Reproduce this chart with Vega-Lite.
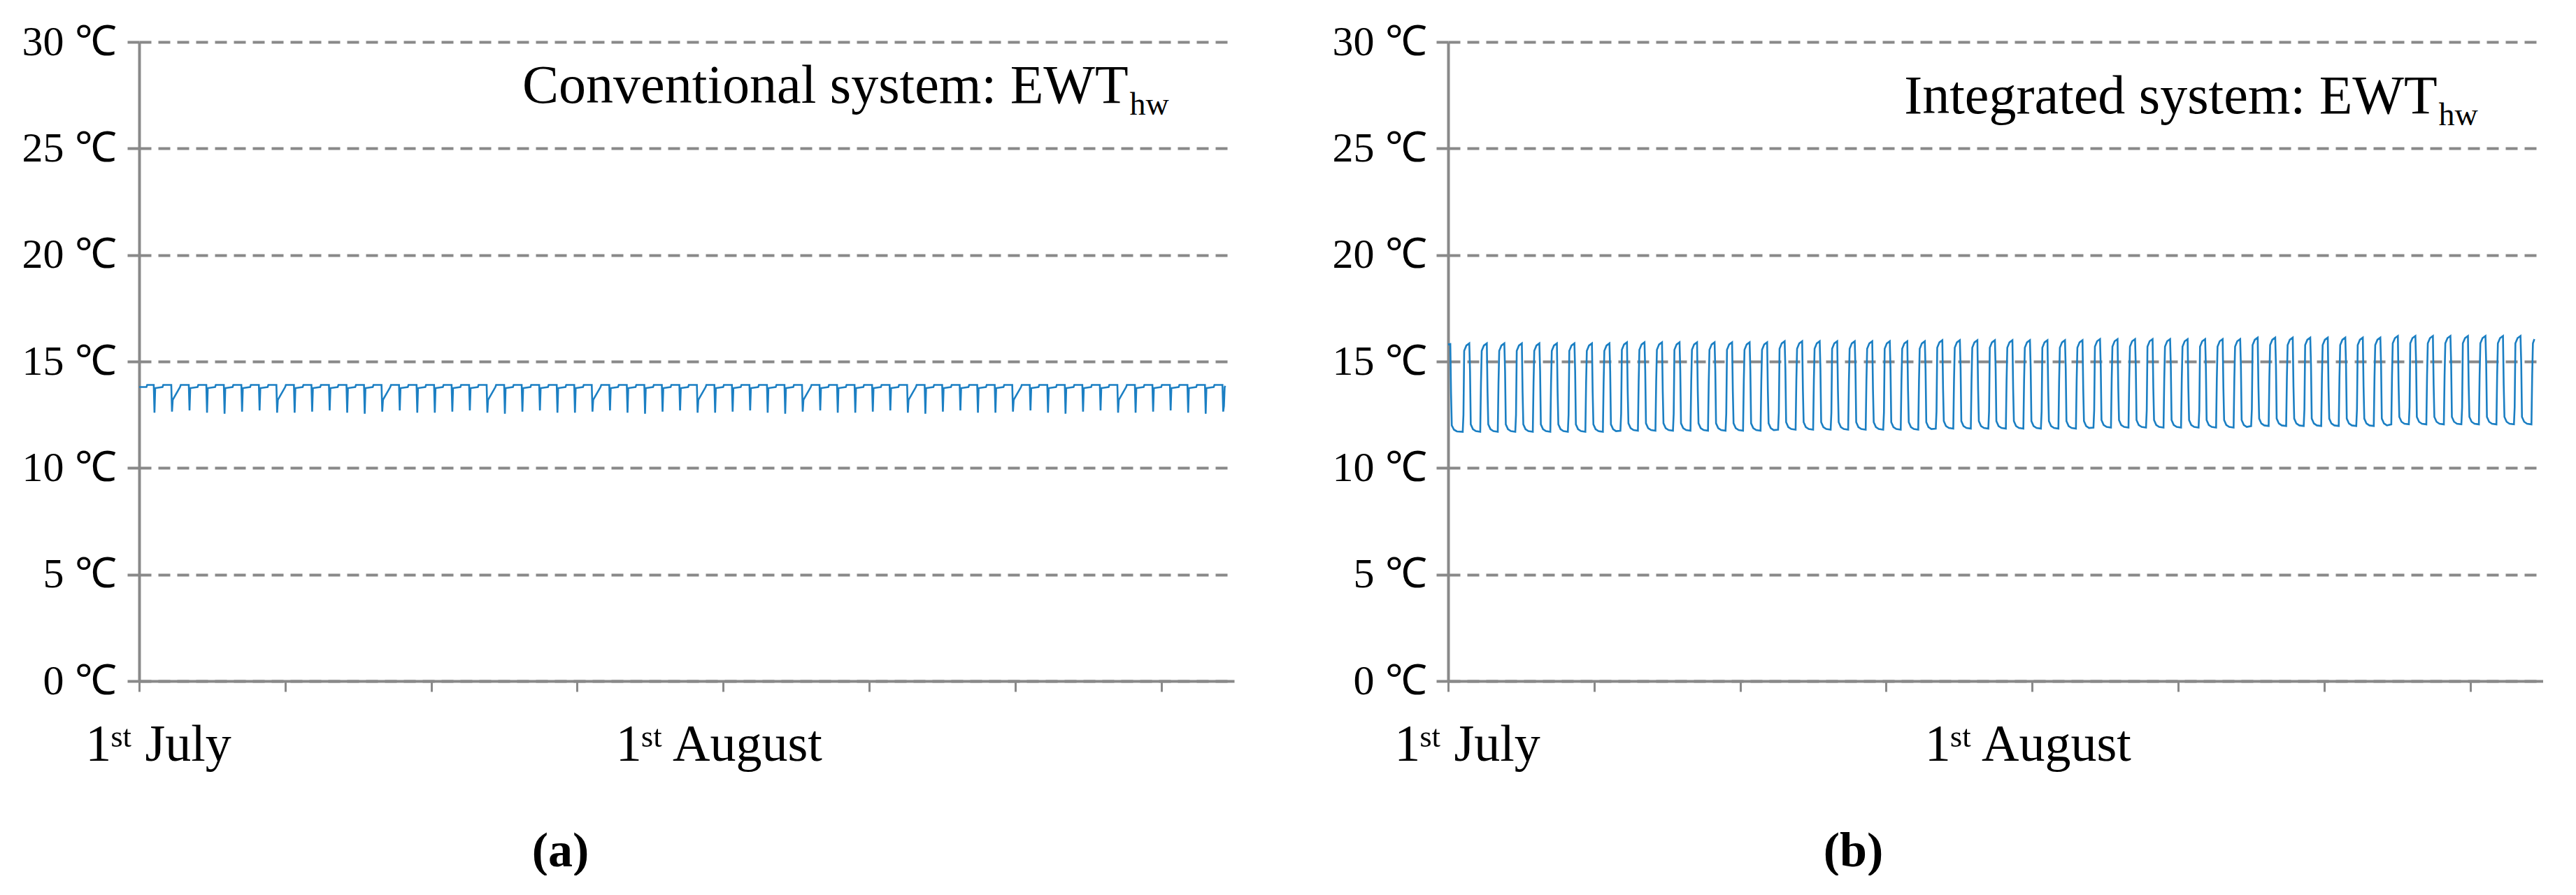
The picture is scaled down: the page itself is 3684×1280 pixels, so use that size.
{
"$schema":"https://vega.github.io/schema/vega-lite/v6.json",
"background":"white",
"padding":{"left":31,"top":30,"right":0,"bottom":0},
"spacing":140,
"config":{
 "view":{"stroke":null},
 "font":"Liberation Serif",
 "axis":{"domainColor":"#898989","domainWidth":4,"tickColor":"#898989","labelColor":"#000000","labelFont":"Liberation Serif","titleFont":"Liberation Serif","titleColor":"#000000","labelLimit":1000}
},
"datasets":{
"a":[
{"h":0,"t":13.8},{"h":10,"t":13.8},{"h":11,"t":13.9},
{"h":20,"t":13.9},{"h":21,"t":12.6},{"h":22,"t":13.75},{"h":32,"t":13.8},{"h":33,"t":13.9},
{"h":44,"t":13.9},{"h":45,"t":12.65},{"h":46,"t":13.2},{"h":56,"t":13.8},{"h":57,"t":13.9},
{"h":68,"t":13.9},{"h":69,"t":12.7},{"h":70,"t":13.75},{"h":80,"t":13.8},{"h":81,"t":13.9},
{"h":92,"t":13.9},{"h":93,"t":12.6},{"h":94,"t":13.75},{"h":104,"t":13.8},{"h":105,"t":13.9},
{"h":116,"t":13.9},{"h":117,"t":12.55},{"h":118,"t":13.75},{"h":128,"t":13.8},{"h":129,"t":13.9},
{"h":140,"t":13.9},{"h":141,"t":12.65},{"h":142,"t":13.75},{"h":152,"t":13.8},{"h":153,"t":13.9},
{"h":164,"t":13.9},{"h":165,"t":12.7},{"h":166,"t":13.75},{"h":176,"t":13.8},{"h":177,"t":13.9},
{"h":188,"t":13.9},{"h":189,"t":12.6},{"h":190,"t":13.2},{"h":200,"t":13.8},{"h":201,"t":13.9},
{"h":212,"t":13.9},{"h":213,"t":12.6},{"h":214,"t":13.75},{"h":224,"t":13.8},{"h":225,"t":13.9},
{"h":236,"t":13.9},{"h":237,"t":12.65},{"h":238,"t":13.75},{"h":248,"t":13.8},{"h":249,"t":13.9},
{"h":260,"t":13.9},{"h":261,"t":12.7},{"h":262,"t":13.75},{"h":272,"t":13.8},{"h":273,"t":13.9},
{"h":284,"t":13.9},{"h":285,"t":12.6},{"h":286,"t":13.75},{"h":296,"t":13.8},{"h":297,"t":13.9},
{"h":308,"t":13.9},{"h":309,"t":12.55},{"h":310,"t":13.75},{"h":320,"t":13.8},{"h":321,"t":13.9},
{"h":332,"t":13.9},{"h":333,"t":12.65},{"h":334,"t":13.2},{"h":344,"t":13.8},{"h":345,"t":13.9},
{"h":356,"t":13.9},{"h":357,"t":12.7},{"h":358,"t":13.75},{"h":368,"t":13.8},{"h":369,"t":13.9},
{"h":380,"t":13.9},{"h":381,"t":12.6},{"h":382,"t":13.75},{"h":392,"t":13.8},{"h":393,"t":13.9},
{"h":404,"t":13.9},{"h":405,"t":12.6},{"h":406,"t":13.75},{"h":416,"t":13.8},{"h":417,"t":13.9},
{"h":428,"t":13.9},{"h":429,"t":12.65},{"h":430,"t":13.75},{"h":440,"t":13.8},{"h":441,"t":13.9},
{"h":452,"t":13.9},{"h":453,"t":12.7},{"h":454,"t":13.75},{"h":464,"t":13.8},{"h":465,"t":13.9},
{"h":476,"t":13.9},{"h":477,"t":12.6},{"h":478,"t":13.2},{"h":488,"t":13.8},{"h":489,"t":13.9},
{"h":500,"t":13.9},{"h":501,"t":12.55},{"h":502,"t":13.75},{"h":512,"t":13.8},{"h":513,"t":13.9},
{"h":524,"t":13.9},{"h":525,"t":12.65},{"h":526,"t":13.75},{"h":536,"t":13.8},{"h":537,"t":13.9},
{"h":548,"t":13.9},{"h":549,"t":12.7},{"h":550,"t":13.75},{"h":560,"t":13.8},{"h":561,"t":13.9},
{"h":572,"t":13.9},{"h":573,"t":12.6},{"h":574,"t":13.75},{"h":584,"t":13.8},{"h":585,"t":13.9},
{"h":596,"t":13.9},{"h":597,"t":12.6},{"h":598,"t":13.75},{"h":608,"t":13.8},{"h":609,"t":13.9},
{"h":620,"t":13.9},{"h":621,"t":12.65},{"h":622,"t":13.2},{"h":632,"t":13.8},{"h":633,"t":13.9},
{"h":644,"t":13.9},{"h":645,"t":12.7},{"h":646,"t":13.75},{"h":656,"t":13.8},{"h":657,"t":13.9},
{"h":668,"t":13.9},{"h":669,"t":12.6},{"h":670,"t":13.75},{"h":680,"t":13.8},{"h":681,"t":13.9},
{"h":692,"t":13.9},{"h":693,"t":12.55},{"h":694,"t":13.75},{"h":704,"t":13.8},{"h":705,"t":13.9},
{"h":716,"t":13.9},{"h":717,"t":12.65},{"h":718,"t":13.75},{"h":728,"t":13.8},{"h":729,"t":13.9},
{"h":740,"t":13.9},{"h":741,"t":12.7},{"h":742,"t":13.75},{"h":752,"t":13.8},{"h":753,"t":13.9},
{"h":764,"t":13.9},{"h":765,"t":12.6},{"h":766,"t":13.2},{"h":776,"t":13.8},{"h":777,"t":13.9},
{"h":788,"t":13.9},{"h":789,"t":12.6},{"h":790,"t":13.75},{"h":800,"t":13.8},{"h":801,"t":13.9},
{"h":812,"t":13.9},{"h":813,"t":12.65},{"h":814,"t":13.75},{"h":824,"t":13.8},{"h":825,"t":13.9},
{"h":836,"t":13.9},{"h":837,"t":12.7},{"h":838,"t":13.75},{"h":848,"t":13.8},{"h":849,"t":13.9},
{"h":860,"t":13.9},{"h":861,"t":12.6},{"h":862,"t":13.75},{"h":872,"t":13.8},{"h":873,"t":13.9},
{"h":884,"t":13.9},{"h":885,"t":12.55},{"h":886,"t":13.75},{"h":896,"t":13.8},{"h":897,"t":13.9},
{"h":908,"t":13.9},{"h":909,"t":12.65},{"h":910,"t":13.2},{"h":920,"t":13.8},{"h":921,"t":13.9},
{"h":932,"t":13.9},{"h":933,"t":12.7},{"h":934,"t":13.75},{"h":944,"t":13.8},{"h":945,"t":13.9},
{"h":956,"t":13.9},{"h":957,"t":12.6},{"h":958,"t":13.75},{"h":968,"t":13.8},{"h":969,"t":13.9},
{"h":980,"t":13.9},{"h":981,"t":12.6},{"h":982,"t":13.75},{"h":992,"t":13.8},{"h":993,"t":13.9},
{"h":1004,"t":13.9},{"h":1005,"t":12.65},{"h":1006,"t":13.75},{"h":1016,"t":13.8},{"h":1017,"t":13.9},
{"h":1028,"t":13.9},{"h":1029,"t":12.7},{"h":1030,"t":13.75},{"h":1040,"t":13.8},{"h":1041,"t":13.9},
{"h":1052,"t":13.9},{"h":1053,"t":12.6},{"h":1054,"t":13.2},{"h":1064,"t":13.8},{"h":1065,"t":13.9},
{"h":1076,"t":13.9},{"h":1077,"t":12.55},{"h":1078,"t":13.75},{"h":1088,"t":13.8},{"h":1089,"t":13.9},
{"h":1100,"t":13.9},{"h":1101,"t":12.65},{"h":1102,"t":13.75},{"h":1112,"t":13.8},{"h":1113,"t":13.9},
{"h":1124,"t":13.9},{"h":1125,"t":12.7},{"h":1126,"t":13.75},{"h":1136,"t":13.8},{"h":1137,"t":13.9},
{"h":1148,"t":13.9},{"h":1149,"t":12.6},{"h":1150,"t":13.75},{"h":1160,"t":13.8},{"h":1161,"t":13.9},
{"h":1172,"t":13.9},{"h":1173,"t":12.6},{"h":1174,"t":13.75},{"h":1184,"t":13.8},{"h":1185,"t":13.9},
{"h":1196,"t":13.9},{"h":1197,"t":12.65},{"h":1198,"t":13.2},{"h":1208,"t":13.8},{"h":1209,"t":13.9},
{"h":1220,"t":13.9},{"h":1221,"t":12.7},{"h":1222,"t":13.75},{"h":1232,"t":13.8},{"h":1233,"t":13.9},
{"h":1244,"t":13.9},{"h":1245,"t":12.6},{"h":1246,"t":13.75},{"h":1256,"t":13.8},{"h":1257,"t":13.9},
{"h":1268,"t":13.9},{"h":1269,"t":12.55},{"h":1270,"t":13.75},{"h":1280,"t":13.8},{"h":1281,"t":13.9},
{"h":1292,"t":13.9},{"h":1293,"t":12.65},{"h":1294,"t":13.75},{"h":1304,"t":13.8},{"h":1305,"t":13.9},
{"h":1316,"t":13.9},{"h":1317,"t":12.7},{"h":1318,"t":13.75},{"h":1328,"t":13.8},{"h":1329,"t":13.9},
{"h":1340,"t":13.9},{"h":1341,"t":12.6},{"h":1342,"t":13.2},{"h":1352,"t":13.8},{"h":1353,"t":13.9},
{"h":1364,"t":13.9},{"h":1365,"t":12.6},{"h":1366,"t":13.75},{"h":1376,"t":13.8},{"h":1377,"t":13.9},
{"h":1388,"t":13.9},{"h":1389,"t":12.65},{"h":1390,"t":13.75},{"h":1400,"t":13.8},{"h":1401,"t":13.9},
{"h":1412,"t":13.9},{"h":1413,"t":12.7},{"h":1414,"t":13.75},{"h":1424,"t":13.8},{"h":1425,"t":13.9},
{"h":1436,"t":13.9},{"h":1437,"t":12.6},{"h":1438,"t":13.75},{"h":1448,"t":13.8},{"h":1449,"t":13.9},
{"h":1460,"t":13.9},{"h":1461,"t":12.55},{"h":1462,"t":13.75},{"h":1472,"t":13.8},{"h":1473,"t":13.9},
{"h":1484,"t":13.9},{"h":1485,"t":12.65},{"h":1486,"t":12.9},{"h":1487,"t":13.8},{"h":1488,"t":13.85}
],
"b":[
{"h":0,"t":15.8},{"h":3,"t":15.82},{"h":4,"t":13.5},{"h":5,"t":12.0},{"h":8,"t":11.8},{"h":12,"t":11.72},
{"h":20,"t":11.7},{"h":21,"t":12.5},{"h":22,"t":15.5},{"h":25,"t":15.75},{"h":29,"t":15.85},{"h":30,"t":14.55},{"h":31,"t":12.05},{"h":34,"t":11.82},{"h":38,"t":11.73},
{"h":44,"t":11.7},{"h":45,"t":14.0},{"h":46,"t":15.5},{"h":49,"t":15.75},{"h":53,"t":15.85},{"h":54,"t":13.55},{"h":55,"t":12.05},{"h":58,"t":11.82},{"h":62,"t":11.73},
{"h":68,"t":11.7},{"h":69,"t":14.0},{"h":70,"t":15.5},{"h":73,"t":15.75},{"h":77,"t":15.85},{"h":78,"t":14.55},{"h":79,"t":12.05},{"h":82,"t":11.82},{"h":86,"t":11.73},
{"h":92,"t":11.7},{"h":93,"t":12.5},{"h":94,"t":15.5},{"h":97,"t":15.75},{"h":101,"t":15.85},{"h":102,"t":13.55},{"h":103,"t":12.05},{"h":106,"t":11.82},{"h":110,"t":11.73},
{"h":116,"t":11.7},{"h":117,"t":14.0},{"h":118,"t":15.5},{"h":121,"t":15.75},{"h":125,"t":15.85},{"h":126,"t":14.55},{"h":127,"t":12.05},{"h":130,"t":11.82},{"h":134,"t":11.73},
{"h":140,"t":11.7},{"h":141,"t":14.0},{"h":142,"t":15.5},{"h":145,"t":15.75},{"h":149,"t":15.85},{"h":150,"t":13.55},{"h":151,"t":12.05},{"h":154,"t":11.82},{"h":158,"t":11.73},
{"h":164,"t":11.7},{"h":165,"t":12.5},{"h":166,"t":15.5},{"h":169,"t":15.75},{"h":173,"t":15.85},{"h":174,"t":14.55},{"h":175,"t":12.05},{"h":178,"t":11.82},{"h":182,"t":11.73},
{"h":188,"t":11.7},{"h":189,"t":14.0},{"h":190,"t":15.5},{"h":193,"t":15.75},{"h":197,"t":15.85},{"h":198,"t":13.55},{"h":199,"t":12.05},{"h":202,"t":11.82},{"h":206,"t":11.73},
{"h":212,"t":11.7},{"h":213,"t":14.0},{"h":214,"t":15.5},{"h":217,"t":15.75},{"h":221,"t":15.85},{"h":222,"t":14.55},{"h":223,"t":12.05},{"h":226,"t":11.82},{"h":230,"t":11.73},
{"h":236,"t":11.75},{"h":237,"t":12.55},{"h":238,"t":15.55},{"h":241,"t":15.8},{"h":245,"t":15.9},{"h":246,"t":13.6},{"h":247,"t":12.1},{"h":250,"t":11.87},{"h":254,"t":11.78},
{"h":260,"t":11.75},{"h":261,"t":14.05},{"h":262,"t":15.55},{"h":265,"t":15.8},{"h":269,"t":15.9},{"h":270,"t":14.6},{"h":271,"t":12.1},{"h":274,"t":11.87},{"h":278,"t":11.78},
{"h":284,"t":11.75},{"h":285,"t":14.05},{"h":286,"t":15.55},{"h":289,"t":15.8},{"h":293,"t":15.9},{"h":294,"t":13.6},{"h":295,"t":12.1},{"h":298,"t":11.87},{"h":302,"t":11.78},
{"h":308,"t":11.75},{"h":309,"t":12.55},{"h":310,"t":15.55},{"h":313,"t":15.8},{"h":317,"t":15.9},{"h":318,"t":14.6},{"h":319,"t":12.1},{"h":322,"t":11.87},{"h":326,"t":11.78},
{"h":332,"t":11.75},{"h":333,"t":14.05},{"h":334,"t":15.55},{"h":337,"t":15.8},{"h":341,"t":15.9},{"h":342,"t":13.6},{"h":343,"t":12.1},{"h":346,"t":11.87},{"h":350,"t":11.78},
{"h":356,"t":11.75},{"h":357,"t":14.05},{"h":358,"t":15.55},{"h":361,"t":15.8},{"h":365,"t":15.9},{"h":366,"t":14.6},{"h":367,"t":12.1},{"h":370,"t":11.87},{"h":374,"t":11.78},
{"h":380,"t":11.75},{"h":381,"t":12.55},{"h":382,"t":15.55},{"h":385,"t":15.8},{"h":389,"t":15.9},{"h":390,"t":13.6},{"h":391,"t":12.1},{"h":394,"t":11.87},{"h":398,"t":11.78},
{"h":404,"t":11.75},{"h":405,"t":14.05},{"h":406,"t":15.55},{"h":409,"t":15.8},{"h":413,"t":15.9},{"h":414,"t":14.6},{"h":415,"t":12.1},{"h":418,"t":11.87},{"h":422,"t":11.78},
{"h":428,"t":11.75},{"h":429,"t":14.05},{"h":430,"t":15.55},{"h":433,"t":15.8},{"h":437,"t":15.9},{"h":438,"t":13.6},{"h":439,"t":12.1},{"h":442,"t":11.87},{"h":446,"t":11.78},
{"h":452,"t":11.8},{"h":453,"t":12.6},{"h":454,"t":15.6},{"h":457,"t":15.85},{"h":461,"t":15.95},{"h":462,"t":14.65},{"h":463,"t":12.15},{"h":466,"t":11.92},{"h":470,"t":11.83},
{"h":476,"t":11.8},{"h":477,"t":14.1},{"h":478,"t":15.6},{"h":481,"t":15.85},{"h":485,"t":15.95},{"h":486,"t":13.65},{"h":487,"t":12.15},{"h":490,"t":11.92},{"h":494,"t":11.83},
{"h":500,"t":11.8},{"h":501,"t":14.1},{"h":502,"t":15.6},{"h":505,"t":15.85},{"h":509,"t":15.95},{"h":510,"t":14.65},{"h":511,"t":12.15},{"h":514,"t":11.92},{"h":518,"t":11.83},
{"h":524,"t":11.8},{"h":525,"t":12.6},{"h":526,"t":15.6},{"h":529,"t":15.85},{"h":533,"t":15.95},{"h":534,"t":13.65},{"h":535,"t":12.15},{"h":538,"t":11.92},{"h":542,"t":11.83},
{"h":548,"t":11.8},{"h":549,"t":14.1},{"h":550,"t":15.6},{"h":553,"t":15.85},{"h":557,"t":15.95},{"h":558,"t":14.65},{"h":559,"t":12.15},{"h":562,"t":11.92},{"h":566,"t":11.83},
{"h":572,"t":11.8},{"h":573,"t":14.1},{"h":574,"t":15.6},{"h":577,"t":15.85},{"h":581,"t":15.95},{"h":582,"t":13.65},{"h":583,"t":12.15},{"h":586,"t":11.92},{"h":590,"t":11.83},
{"h":596,"t":11.8},{"h":597,"t":12.6},{"h":598,"t":15.6},{"h":601,"t":15.85},{"h":605,"t":15.95},{"h":606,"t":14.65},{"h":607,"t":12.15},{"h":610,"t":11.92},{"h":614,"t":11.83},
{"h":620,"t":11.8},{"h":621,"t":14.1},{"h":622,"t":15.6},{"h":625,"t":15.85},{"h":629,"t":15.95},{"h":630,"t":13.65},{"h":631,"t":12.15},{"h":634,"t":11.92},{"h":638,"t":11.83},
{"h":644,"t":11.8},{"h":645,"t":14.1},{"h":646,"t":15.6},{"h":649,"t":15.85},{"h":653,"t":15.95},{"h":654,"t":14.65},{"h":655,"t":12.15},{"h":658,"t":11.92},{"h":662,"t":11.83},
{"h":668,"t":11.85},{"h":669,"t":12.65},{"h":670,"t":15.65},{"h":673,"t":15.9},{"h":677,"t":16.0},{"h":678,"t":13.7},{"h":679,"t":12.2},{"h":682,"t":11.97},{"h":686,"t":11.88},
{"h":692,"t":11.85},{"h":693,"t":14.15},{"h":694,"t":15.65},{"h":697,"t":15.9},{"h":701,"t":16.0},{"h":702,"t":14.7},{"h":703,"t":12.2},{"h":706,"t":11.97},{"h":710,"t":11.88},
{"h":716,"t":11.85},{"h":717,"t":14.15},{"h":718,"t":15.65},{"h":721,"t":15.9},{"h":725,"t":16.0},{"h":726,"t":13.7},{"h":727,"t":12.2},{"h":730,"t":11.97},{"h":734,"t":11.88},
{"h":740,"t":11.85},{"h":741,"t":12.65},{"h":742,"t":15.65},{"h":745,"t":15.9},{"h":749,"t":16.0},{"h":750,"t":14.7},{"h":751,"t":12.2},{"h":754,"t":11.97},{"h":758,"t":11.88},
{"h":764,"t":11.85},{"h":765,"t":14.15},{"h":766,"t":15.65},{"h":769,"t":15.9},{"h":773,"t":16.0},{"h":774,"t":13.7},{"h":775,"t":12.2},{"h":778,"t":11.97},{"h":782,"t":11.88},
{"h":788,"t":11.85},{"h":789,"t":14.15},{"h":790,"t":15.65},{"h":793,"t":15.9},{"h":797,"t":16.0},{"h":798,"t":14.7},{"h":799,"t":12.2},{"h":802,"t":11.97},{"h":806,"t":11.88},
{"h":812,"t":11.85},{"h":813,"t":12.65},{"h":814,"t":15.65},{"h":817,"t":15.9},{"h":821,"t":16.0},{"h":822,"t":13.7},{"h":823,"t":12.2},{"h":826,"t":11.97},{"h":830,"t":11.88},
{"h":836,"t":11.85},{"h":837,"t":14.15},{"h":838,"t":15.65},{"h":841,"t":15.9},{"h":845,"t":16.0},{"h":846,"t":14.7},{"h":847,"t":12.2},{"h":850,"t":11.97},{"h":854,"t":11.88},
{"h":860,"t":11.85},{"h":861,"t":14.15},{"h":862,"t":15.65},{"h":865,"t":15.9},{"h":869,"t":16.0},{"h":870,"t":13.7},{"h":871,"t":12.2},{"h":874,"t":11.97},{"h":878,"t":11.88},
{"h":884,"t":11.9},{"h":885,"t":12.7},{"h":886,"t":15.7},{"h":889,"t":15.95},{"h":893,"t":16.05},{"h":894,"t":14.75},{"h":895,"t":12.25},{"h":898,"t":12.02},{"h":902,"t":11.93},
{"h":908,"t":11.9},{"h":909,"t":14.2},{"h":910,"t":15.7},{"h":913,"t":15.95},{"h":917,"t":16.05},{"h":918,"t":13.75},{"h":919,"t":12.25},{"h":922,"t":12.02},{"h":926,"t":11.93},
{"h":932,"t":11.9},{"h":933,"t":14.2},{"h":934,"t":15.7},{"h":937,"t":15.95},{"h":941,"t":16.05},{"h":942,"t":14.75},{"h":943,"t":12.25},{"h":946,"t":12.02},{"h":950,"t":11.93},
{"h":956,"t":11.9},{"h":957,"t":12.7},{"h":958,"t":15.7},{"h":961,"t":15.95},{"h":965,"t":16.05},{"h":966,"t":13.75},{"h":967,"t":12.25},{"h":970,"t":12.02},{"h":974,"t":11.93},
{"h":980,"t":11.9},{"h":981,"t":14.2},{"h":982,"t":15.7},{"h":985,"t":15.95},{"h":989,"t":16.05},{"h":990,"t":14.75},{"h":991,"t":12.25},{"h":994,"t":12.02},{"h":998,"t":11.93},
{"h":1004,"t":11.9},{"h":1005,"t":14.2},{"h":1006,"t":15.7},{"h":1009,"t":15.95},{"h":1013,"t":16.05},{"h":1014,"t":13.75},{"h":1015,"t":12.25},{"h":1018,"t":12.02},{"h":1022,"t":11.93},
{"h":1028,"t":11.9},{"h":1029,"t":12.7},{"h":1030,"t":15.7},{"h":1033,"t":15.95},{"h":1037,"t":16.05},{"h":1038,"t":14.75},{"h":1039,"t":12.25},{"h":1042,"t":12.02},{"h":1046,"t":11.93},
{"h":1052,"t":11.9},{"h":1053,"t":14.2},{"h":1054,"t":15.7},{"h":1057,"t":15.95},{"h":1061,"t":16.05},{"h":1062,"t":13.75},{"h":1063,"t":12.25},{"h":1066,"t":12.02},{"h":1070,"t":11.93},
{"h":1076,"t":11.9},{"h":1077,"t":14.2},{"h":1078,"t":15.7},{"h":1081,"t":15.95},{"h":1085,"t":16.05},{"h":1086,"t":14.75},{"h":1087,"t":12.25},{"h":1090,"t":12.02},{"h":1094,"t":11.93},
{"h":1100,"t":11.97},{"h":1101,"t":12.77},{"h":1102,"t":15.77},{"h":1105,"t":16.02},{"h":1109,"t":16.12},{"h":1110,"t":13.82},{"h":1111,"t":12.32},{"h":1114,"t":12.09},{"h":1118,"t":12.0},
{"h":1124,"t":11.97},{"h":1125,"t":14.27},{"h":1126,"t":15.77},{"h":1129,"t":16.02},{"h":1133,"t":16.12},{"h":1134,"t":14.82},{"h":1135,"t":12.32},{"h":1138,"t":12.09},{"h":1142,"t":12.0},
{"h":1148,"t":11.97},{"h":1149,"t":14.27},{"h":1150,"t":15.77},{"h":1153,"t":16.02},{"h":1157,"t":16.12},{"h":1158,"t":13.82},{"h":1159,"t":12.32},{"h":1162,"t":12.09},{"h":1166,"t":12.0},
{"h":1172,"t":11.97},{"h":1173,"t":12.77},{"h":1174,"t":15.77},{"h":1177,"t":16.02},{"h":1181,"t":16.12},{"h":1182,"t":14.82},{"h":1183,"t":12.32},{"h":1186,"t":12.09},{"h":1190,"t":12.0},
{"h":1196,"t":11.97},{"h":1197,"t":14.27},{"h":1198,"t":15.77},{"h":1201,"t":16.02},{"h":1205,"t":16.12},{"h":1206,"t":13.82},{"h":1207,"t":12.32},{"h":1210,"t":12.09},{"h":1214,"t":12.0},
{"h":1220,"t":11.97},{"h":1221,"t":14.27},{"h":1222,"t":15.77},{"h":1225,"t":16.02},{"h":1229,"t":16.12},{"h":1230,"t":14.82},{"h":1231,"t":12.32},{"h":1234,"t":12.09},{"h":1238,"t":12.0},
{"h":1244,"t":11.97},{"h":1245,"t":12.77},{"h":1246,"t":15.77},{"h":1249,"t":16.02},{"h":1253,"t":16.12},{"h":1254,"t":13.82},{"h":1255,"t":12.32},{"h":1258,"t":12.09},{"h":1262,"t":12.0},
{"h":1268,"t":11.97},{"h":1269,"t":14.27},{"h":1270,"t":15.77},{"h":1273,"t":16.02},{"h":1277,"t":16.12},{"h":1278,"t":14.82},{"h":1279,"t":12.32},{"h":1282,"t":12.09},{"h":1286,"t":12.0},
{"h":1292,"t":12.05},{"h":1293,"t":14.35},{"h":1294,"t":15.85},{"h":1297,"t":16.1},{"h":1301,"t":16.2},{"h":1302,"t":13.9},{"h":1303,"t":12.4},{"h":1306,"t":12.17},{"h":1310,"t":12.08},
{"h":1316,"t":12.05},{"h":1317,"t":12.85},{"h":1318,"t":15.85},{"h":1321,"t":16.1},{"h":1325,"t":16.2},{"h":1326,"t":14.9},{"h":1327,"t":12.4},{"h":1330,"t":12.17},{"h":1334,"t":12.08},
{"h":1340,"t":12.05},{"h":1341,"t":14.35},{"h":1342,"t":15.85},{"h":1345,"t":16.1},{"h":1349,"t":16.2},{"h":1350,"t":13.9},{"h":1351,"t":12.4},{"h":1354,"t":12.17},{"h":1358,"t":12.08},
{"h":1364,"t":12.05},{"h":1365,"t":14.35},{"h":1366,"t":15.85},{"h":1369,"t":16.1},{"h":1373,"t":16.2},{"h":1374,"t":14.9},{"h":1375,"t":12.4},{"h":1378,"t":12.17},{"h":1382,"t":12.08},
{"h":1388,"t":12.05},{"h":1389,"t":12.85},{"h":1390,"t":15.85},{"h":1393,"t":16.1},{"h":1397,"t":16.2},{"h":1398,"t":13.9},{"h":1399,"t":12.4},{"h":1402,"t":12.17},{"h":1406,"t":12.08},
{"h":1412,"t":12.05},{"h":1413,"t":14.35},{"h":1414,"t":15.85},{"h":1417,"t":16.1},{"h":1421,"t":16.2},{"h":1422,"t":14.9},{"h":1423,"t":12.4},{"h":1426,"t":12.17},{"h":1430,"t":12.08},
{"h":1436,"t":12.05},{"h":1437,"t":14.35},{"h":1438,"t":15.85},{"h":1441,"t":16.1},{"h":1445,"t":16.2},{"h":1446,"t":13.9},{"h":1447,"t":12.4},{"h":1450,"t":12.17},{"h":1454,"t":12.08},
{"h":1460,"t":12.05},{"h":1461,"t":12.85},{"h":1462,"t":15.85},{"h":1465,"t":16.1},{"h":1469,"t":16.2},{"h":1470,"t":14.9},{"h":1471,"t":12.4},{"h":1474,"t":12.17},{"h":1478,"t":12.08},
{"h":1484,"t":12.05},{"h":1485,"t":14.35},{"h":1486,"t":15.85},{"h":1488,"t":16.05}
]
},
"hconcat":[
{
 "width":1566,"height":914,
 "layer":[
  {"data":{"name":"a"},
   "mark":{"type":"line","color":"#1b7fc3","strokeWidth":2.6},
   "encoding":{
    "x":{"field":"h","type":"quantitative","scale":{"domain":[0,1500],"nice":false,"zero":false},
     "axis":{"values":[0,200,400,600,744,800,1000,1200,1400],"grid":false,"tickSize":15,"tickWidth":3,
      "tickOpacity":{"condition":{"test":"datum.value == 744","value":0},"value":1},
      "labelExpr":"datum.value == 0 ? '1ˢᵗ July' : (datum.value == 744 ? '1ˢᵗ August' : '')",
      "labelFontSize":74,"labelPadding":40,"labelFlush":false,"labelOverlap":false,"labelAlign":"center","labelLimit":1000,
      "labelOffset":{"condition":{"test":"datum.value == 0","value":27},"value":52},
      "title":"(a)","titleFontSize":70,"titleFontWeight":"bold","titleX":602,"titleY":243,"titleAlign":"center","titleBaseline":"middle"}},
    "y":{"field":"t","type":"quantitative","scale":{"domain":[0,30],"nice":false},
     "axis":{"values":[0,5,10,15,20,25,30],"labelExpr":"datum.value + ' ℃'","labelFontSize":60,"tickSize":17,"tickWidth":4,"labelPadding":16,
      "grid":true,"gridColor":"#898989","gridWidth":4,"gridDash":[17,10],"title":null}}
   }},
  {"data":{"values":[{"k":1}]},
   "mark":{"type":"text","text":"Conventional system: EWT","align":"right","baseline":"alphabetic","fontSize":78,"font":"Liberation Serif","color":"#000000"},
   "encoding":{"x":{"datum":1355},"y":{"datum":27.14}}},
  {"data":{"values":[{"k":1}]},
   "mark":{"type":"text","text":"hw","align":"left","baseline":"alphabetic","fontSize":46,"dx":2,"dy":17,"font":"Liberation Serif","color":"#000000"},
   "encoding":{"x":{"datum":1355},"y":{"datum":27.14}}}
 ]
},
{
 "width":1566,"height":914,
 "layer":[
  {"data":{"name":"b"},
   "mark":{"type":"line","color":"#1b7fc3","strokeWidth":2.6},
   "encoding":{
    "x":{"field":"h","type":"quantitative","scale":{"domain":[0,1500],"nice":false,"zero":false},
     "axis":{"values":[0,200,400,600,744,800,1000,1200,1400],"grid":false,"tickSize":15,"tickWidth":3,
      "tickOpacity":{"condition":{"test":"datum.value == 744","value":0},"value":1},
      "labelExpr":"datum.value == 0 ? '1ˢᵗ July' : (datum.value == 744 ? '1ˢᵗ August' : '')",
      "labelFontSize":74,"labelPadding":40,"labelFlush":false,"labelOverlap":false,"labelAlign":"center","labelLimit":1000,
      "labelOffset":{"condition":{"test":"datum.value == 0","value":27},"value":52},
      "title":"(b)","titleFontSize":70,"titleFontWeight":"bold","titleX":579,"titleY":243,"titleAlign":"center","titleBaseline":"middle"}},
    "y":{"field":"t","type":"quantitative","scale":{"domain":[0,30],"nice":false},
     "axis":{"values":[0,5,10,15,20,25,30],"labelExpr":"datum.value + ' ℃'","labelFontSize":60,"tickSize":17,"tickWidth":4,"labelPadding":14,
      "grid":true,"gridColor":"#898989","gridWidth":4,"gridDash":[17,10],"title":null}}
   }},
  {"data":{"values":[{"k":1}]},
   "mark":{"type":"text","text":"Integrated system: EWT","align":"right","baseline":"alphabetic","fontSize":78,"font":"Liberation Serif","color":"#000000"},
   "encoding":{"x":{"datum":1355},"y":{"datum":26.65}}},
  {"data":{"values":[{"k":1}]},
   "mark":{"type":"text","text":"hw","align":"left","baseline":"alphabetic","fontSize":46,"dx":2,"dy":17,"font":"Liberation Serif","color":"#000000"},
   "encoding":{"x":{"datum":1355},"y":{"datum":26.65}}}
 ]
}
]
}
